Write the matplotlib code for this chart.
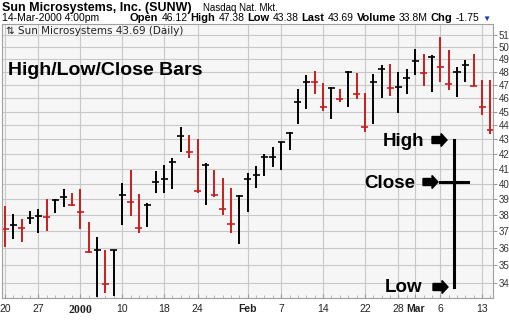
import matplotlib
matplotlib.use('Agg')
import matplotlib.pyplot as plt
from matplotlib.lines import Line2D
from matplotlib.patches import FancyArrow
from matplotlib.transforms import IdentityTransform

plt.rcParams['font.family'] = ['Liberation Sans', 'DejaVu Sans']

# daily bars, Dec 20 1999 .. Mar 14 2000 (one entry per trading day)
highs = [38.58, 38.08, 37.77, 38.26, 38.37, 38.99, 38.99, 39.64, 39.42, 39.64,
         37.56, 36.69, 35.90, 35.90, 40.07, 40.91, 39.34, 38.74, 40.84, 41.24,
         41.70, 43.90, 43.31, 43.01, 41.34, 40.91, 40.35, 39.70, 39.27, 40.73,
         41.18, 41.97, 42.45, 42.84, 43.52, 46.67, 47.77, 48.08, 47.17, 46.82,
         46.67, 48.08, 47.92, 46.35, 47.84, 48.56, 48.60, 48.00, 48.22, 49.82,
         49.46, 49.35, 50.85, 49.76, 48.36, 48.95, 49.42, 47.38, 47.38]
lows = [36.10, 36.54, 36.39, 37.46, 36.93, 37.05, 38.12, 38.53, 38.58, 37.15,
        35.74, 33.23, 33.45, 33.31, 37.40, 37.95, 36.89, 37.26, 39.38, 39.42,
        39.66, 42.15, 41.70, 39.38, 38.64, 39.17, 38.03, 36.89, 36.24, 38.18,
        39.70, 40.51, 41.13, 40.91, 42.26, 44.07, 45.17, 46.31, 45.04, 44.46,
        45.73, 45.36, 45.93, 43.52, 44.06, 45.99, 46.12, 44.90, 46.28, 47.77,
        46.90, 46.42, 47.19, 46.61, 46.11, 47.25, 46.95, 44.75, 43.38]
closes = [37.13, 37.40, 37.20, 37.81, 37.95, 37.91, 38.95, 39.12, 38.64, 38.22,
          35.80, 35.90, 33.95, 35.90, 39.27, 38.84, 37.20, 38.64, 40.13, 40.31,
          41.43, 43.26, 42.10, 39.53, 41.24, 39.27, 38.37, 37.46, 39.23, 40.31,
          40.58, 41.80, 41.80, 42.84, 43.48, 45.71, 47.20, 47.20, 45.34, 46.74,
          45.93, 47.96, 46.31, 43.91, 47.20, 48.27, 46.77, 46.84, 47.53, 48.89,
          47.92, 49.15, 48.37, 47.05, 48.00, 48.55, 46.95, 45.31, 43.69]
down = [1, 0, 1, 0, 0, 1, 0, 0, 1, 1, 1, 0, 1, 0, 0, 1, 1, 0, 0, 0,
        0, 0, 1, 1, 0, 1, 1, 1, 0, 0, 0, 0, 0, 0, 0, 0, 0, 1, 1, 0,
        1, 0, 1, 1, 0, 0, 1, 0, 0, 0, 1, 0, 1, 1, 0, 0, 1, 1, 1]

tick_days = [0, 4, 9, 14, 19, 23, 29, 33, 38, 43, 47, 49, 52, 57]
tick_labels = ['20', '27', '2000', '10', '18', '24', 'Feb', '7', '14', '22', '28', 'Mar', '6', '13']
price_ticks = list(range(34, 52))

W, H = 510, 321
RED = '#c81e1e'

fig = plt.figure(figsize=(W / 100, H / 100), dpi=100)
ax = fig.add_axes([2 / W, 1 - 298 / H, 491 / W, 274 / H])
ax.set_facecolor('#f6f6f6')

days = list(range(len(closes)))
colors = [RED if d else 'black' for d in down]
ax.vlines(days, lows, highs, colors=colors, lw=1.4)
ax.hlines(closes, [d - 0.42 for d in days], [d + 0.42 for d in days], colors=colors, lw=1.2)

ax.set_yscale('log')
ax.set_ylim(33.19, 51.91)
ax.set_xlim(-0.36, 58.3)
ax.set_yticks(price_ticks)
ax.set_yticklabels([str(p) for p in price_ticks])
ax.yaxis.set_minor_locator(matplotlib.ticker.NullLocator())
ax.yaxis.tick_right()
ax.tick_params(axis='y', length=3, width=0.6, color='#888888', labelsize=7,
               labelcolor='#333333', pad=1)

ax.set_xticks(tick_days)
ax.set_xticklabels(tick_labels)
ax.set_xticks(days, minor=True)
ax.tick_params(axis='x', which='major', length=3, direction='in', color='#999999',
               labelsize=7.5, labelcolor='#222222', pad=4)
ax.tick_params(axis='x', which='minor', length=2, direction='in', color='#aaaaaa')
for lab in ax.get_xticklabels():
    if lab.get_text() == '2000':
        lab.set_family('Liberation Serif')
        lab.set_fontweight('bold')
        lab.set_fontsize(8.5)
    elif lab.get_text() in ('Feb', 'Mar'):
        lab.set_fontweight('bold')

ax.grid(True, which='major', color='#c8c8c8', lw=0.8)
ax.set_axisbelow(True)
for s in ax.spines.values():
    s.set_color('#a0a0a0')
    s.set_linewidth(0.8)
ax.spines['left'].set_linestyle((0, (1, 1)))
ax.spines['bottom'].set_linestyle((0, (1, 1)))


def px(x, y):
    return x / W, 1 - y / H


# header lines
fig.text(*px(2, 11), 'Sun Microsystems, Inc. (SUNW)', fontsize=9, fontweight='bold')
fig.text(*px(203, 11), 'Nasdaq Nat. Mkt.', fontsize=7)
fig.text(*px(2, 21), '14-Mar-2000 4:00pm', fontsize=7.5)

r = fig.canvas.get_renderer()
parts = [('Open', 'bold'), ('46.12', 'normal'), ('High', 'bold'), ('47.38', 'normal'),
         ('Low', 'bold'), ('43.38', 'normal'), ('Last', 'bold'), ('43.69', 'normal'),
         ('Volume', 'bold'), ('33.8M', 'normal'), ('Chg', 'bold'), ('-1.75', 'normal')]
x = 130
for s, w in parts:
    t = fig.text(*px(x, 21), s, fontsize=8 if w == 'bold' else 7.5, fontweight=w)
    x += t.get_window_extent(r).width + 3
fig.text(*px(x, 21), '\u25bc', fontsize=6, color='#1f3fa0')

ax.text(4 / 491, 1 - 10 / 274, '\u21c5 Sun Microsystems 43.69 (Daily)', transform=ax.transAxes,
        fontsize=7.5, family='DejaVu Sans', color='#222222', va='baseline')

fig.text(*px(8, 75), 'High/Low/Close Bars', fontsize=14, fontweight='bold')

# legend illustration
fig.text(*px(383, 146), 'High', fontsize=13.5, fontweight='bold')
fig.text(*px(364, 188), 'Close', fontsize=13.5, fontweight='bold')
fig.text(*px(385, 292), 'Low', fontsize=13.5, fontweight='bold')
for x0, y0 in [(432, 140), (423, 182), (433, 287)]:
    fig.add_artist(FancyArrow(x0, H - y0, 9, 0, width=7, head_width=13, head_length=6,
                              length_includes_head=False, color='black', transform=IdentityTransform()))
fig.add_artist(Line2D([454, 454], [H - 140, H - 287], lw=2.2, color='black',
                      transform=IdentityTransform()))
fig.add_artist(Line2D([440, 468], [H - 182, H - 182], lw=2.2, color='black',
                      transform=IdentityTransform()))

fig.savefig('out.png', dpi=100)
